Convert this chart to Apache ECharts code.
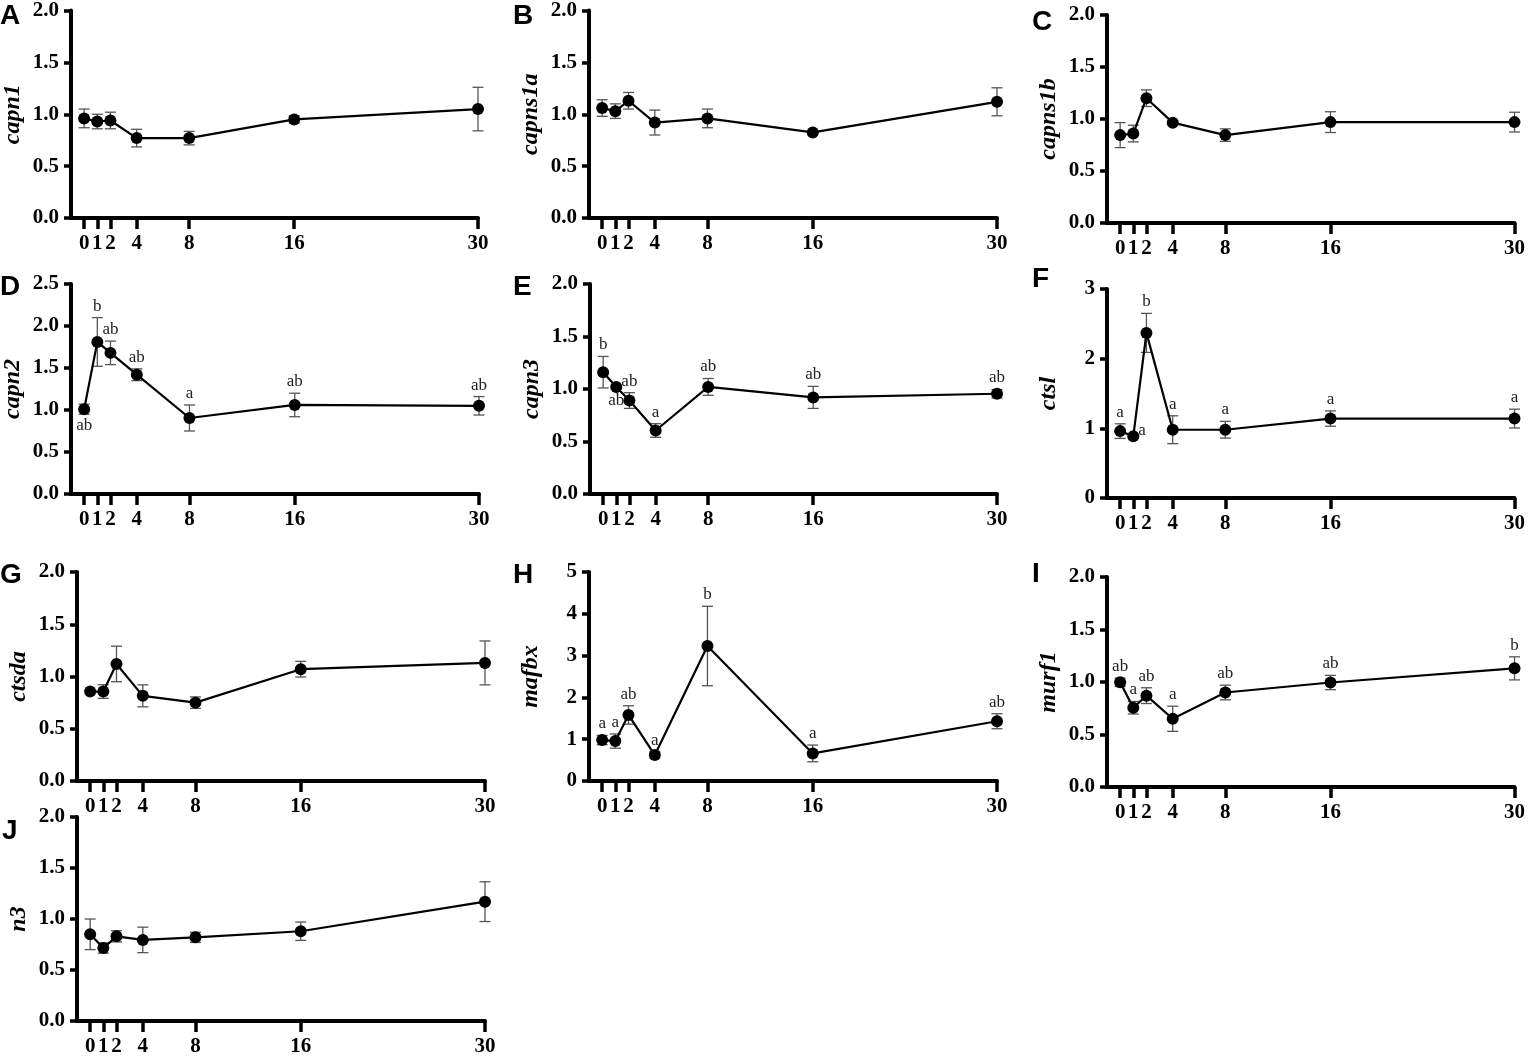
<!DOCTYPE html>
<html>
<head>
<meta charset="UTF-8">
<title>Gene expression time course</title>
<script src="https://cdn.jsdelivr.net/npm/echarts@6/dist/echarts.min.js"></script>
<style>
    html, body { margin: 0; padding: 0; background: #fff; }
    #chart { width: 1528px; height: 1057px; }
</style>
</head>
<body>
<div id="chart"></div>
<script>
// sampling days (x axis)
const days = [0, 1, 2, 4, 8, 16, 30];

// relative expression, mean and error per gene
const capn1Mean   = [0.96, 0.93, 0.94, 0.77, 0.77, 0.95, 1.05];
const capn1Err    = [0.09, 0.07, 0.08, 0.085, 0.065, 0.035, 0.21];
const capns1aMean = [1.06, 1.03, 1.13, 0.92, 0.96, 0.825, 1.12];
const capns1aErr  = [0.08, 0.07, 0.08, 0.12, 0.09, 0.012, 0.135];
const capns1bMean = [0.845, 0.86, 1.20, 0.965, 0.845, 0.97, 0.97];
const capns1bErr  = [0.12, 0.08, 0.08, 0.015, 0.06, 0.10, 0.095];
const capn2Mean   = [1.01, 1.81, 1.68, 1.42, 0.905, 1.06, 1.05];
const capn2Err    = [0.06, 0.29, 0.14, 0.07, 0.155, 0.14, 0.11];
const capn3Mean   = [1.16, 1.02, 0.89, 0.605, 1.02, 0.92, 0.955];
const capn3Err    = [0.15, 0.02, 0.075, 0.065, 0.08, 0.105, 0.04];
const ctslMean    = [0.96, 0.885, 2.37, 0.98, 0.98, 1.14, 1.14];
const ctslErr     = [0.105, 0.02, 0.28, 0.20, 0.12, 0.11, 0.135];
const ctsdaMean   = [0.856, 0.856, 1.12, 0.815, 0.75, 1.07, 1.13];
const ctsdaErr    = [0.01, 0.065, 0.17, 0.105, 0.055, 0.075, 0.21];
const mafbxMean   = [0.98, 0.955, 1.58, 0.62, 3.23, 0.66, 1.43];
const mafbxErr    = [0.11, 0.17, 0.22, 0.08, 0.95, 0.20, 0.18];
const murf1Mean   = [0.997, 0.755, 0.87, 0.65, 0.90, 0.995, 1.13];
const murf1Err    = [0.04, 0.06, 0.075, 0.12, 0.07, 0.068, 0.11];
const n3Mean      = [0.85, 0.715, 0.83, 0.795, 0.82, 0.88, 1.17];
const n3Err       = [0.15, 0.05, 0.055, 0.125, 0.05, 0.09, 0.195];

// significance letters
const capn2Letters = ['ab', 'b', 'ab', 'ab', 'a', 'ab', 'ab'];
const capn3Letters = ['b', 'ab', 'ab', 'a', 'ab', 'ab', 'ab'];
const ctslLetters  = ['a', 'a', 'b', 'a', 'a', 'a', 'a'];
const mafbxLetters = ['a', 'a', 'ab', 'a', 'b', 'a', 'ab'];
const murf1Letters = ['ab', 'a', 'ab', 'a', 'ab', 'ab', 'b'];

const panels = [
    { tag: 'A', gene: 'capn1',   mean: capn1Mean,   err: capn1Err,   letters: null,         yMax: 2,   yStep: 0.5, box: [70, 8, 408, 210],    tagAt: [0, 2] },
    { tag: 'B', gene: 'capns1a', mean: capns1aMean, err: capns1aErr, letters: null,         yMax: 2,   yStep: 0.5, box: [589, 8, 408, 210],   tagAt: [513, 2] },
    { tag: 'C', gene: 'capns1b', mean: capns1bMean, err: capns1bErr, letters: null,         yMax: 2,   yStep: 0.5, box: [1107, 15, 409, 208], tagAt: [1032, 8] },
    { tag: 'D', gene: 'capn2',   mean: capn2Mean,   err: capn2Err,   letters: capn2Letters, yMax: 2.5, yStep: 0.5, box: [71, 284, 408, 210],  tagAt: [0, 273] },
    { tag: 'E', gene: 'capn3',   mean: capn3Mean,   err: capn3Err,   letters: capn3Letters, yMax: 2,   yStep: 0.5, box: [590, 284, 407, 210], tagAt: [513, 273] },
    { tag: 'F', gene: 'ctsl',    mean: ctslMean,    err: ctslErr,    letters: ctslLetters,  yMax: 3,   yStep: 1,   box: [1107, 289, 409, 209], tagAt: [1032, 265] },
    { tag: 'G', gene: 'ctsda',   mean: ctsdaMean,   err: ctsdaErr,   letters: null,         yMax: 2,   yStep: 0.5, box: [77, 572, 408, 209],  tagAt: [0, 561] },
    { tag: 'H', gene: 'mafbx',   mean: mafbxMean,   err: mafbxErr,   letters: mafbxLetters, yMax: 5,   yStep: 1,   box: [589, 572, 408, 209], tagAt: [513, 561] },
    { tag: 'I', gene: 'murf1',   mean: murf1Mean,   err: murf1Err,   letters: murf1Letters, yMax: 2,   yStep: 0.5, box: [1107, 577, 409, 210], tagAt: [1032, 560] },
    { tag: 'J', gene: 'n3',      mean: n3Mean,      err: n3Err,      letters: null,         yMax: 2,   yStep: 0.5, box: [77, 817, 408, 210],  tagAt: [2, 817] }
];

// where a letter sits when not above its error bar
const letterPlace = { D: { 0: 'bottom' }, E: { 1: 'bottom' }, F: { 1: 'right' } };

const serif = "'Liberation Serif', 'Times New Roman', serif";

const chart = echarts.init(document.getElementById('chart'));

const grids = [], xAxes = [], yAxes = [], series = [], graphics = [];

panels.forEach(function (p, i) {
    grids.push({ left: p.box[0], top: p.box[1], width: p.box[2], height: p.box[3], containLabel: false });

    xAxes.push({
        type: 'value', gridIndex: i, min: -1, max: 30,
        splitLine: { show: false },
        axisLine: { onZero: false, lineStyle: { color: '#000', width: 4 } },
        axisTick: { show: true, customValues: days, length: 11, lineStyle: { color: '#000', width: 3.5 } },
        axisLabel: { customValues: days, margin: 15, color: '#000', fontFamily: serif, fontWeight: 'bold', fontSize: 21, hideOverlap: false }
    });

    yAxes.push({
        type: 'value', gridIndex: i, min: 0, max: p.yMax, interval: p.yStep,
        name: p.gene, nameLocation: 'middle', nameGap: 46, nameRotate: 90,
        nameTextStyle: { color: '#000', fontFamily: serif, fontWeight: 'bold', fontStyle: 'italic', fontSize: 24 },
        splitLine: { show: false },
        axisLine: { show: true, onZero: false, lineStyle: { color: '#000', width: 4 } },
        axisTick: { show: true, length: 7, lineStyle: { color: '#000', width: 3.5 } },
        axisLabel: {
            margin: 12, color: '#000', fontFamily: serif, fontWeight: 'bold', fontSize: 21,
            formatter: function (v) { return p.yStep < 1 ? v.toFixed(1) : String(v); }
        }
    });

    // error bars
    series.push({
        type: 'custom', xAxisIndex: i, yAxisIndex: i, z: 2, silent: true,
        data: days.map(function (d, k) { return [d, p.mean[k] - p.err[k], p.mean[k] + p.err[k]]; }),
        renderItem: function (params, api) {
            const top = api.coord([api.value(0), api.value(2)]);
            const bot = api.coord([api.value(0), api.value(1)]);
            const w = 5.5;
            const style = { stroke: '#555', lineWidth: 1.3 };
            return {
                type: 'group',
                children: [
                    { type: 'line', shape: { x1: top[0], y1: top[1], x2: bot[0], y2: bot[1] }, style: style },
                    { type: 'line', shape: { x1: top[0] - w, y1: top[1], x2: top[0] + w, y2: top[1] }, style: style },
                    { type: 'line', shape: { x1: bot[0] - w, y1: bot[1], x2: bot[0] + w, y2: bot[1] }, style: style }
                ]
            };
        }
    });

    // mean line with dots
    series.push({
        type: 'line', xAxisIndex: i, yAxisIndex: i, z: 3, silent: true,
        data: days.map(function (d, k) { return [d, p.mean[k]]; }),
        symbol: 'circle', symbolSize: 12,
        lineStyle: { color: '#000', width: 2.2 },
        itemStyle: { color: '#000' }
    });

    // significance letters
    if (p.letters) {
        const place = letterPlace[p.tag] || {};
        series.push({
            type: 'custom', xAxisIndex: i, yAxisIndex: i, z: 4, silent: true,
            data: days.map(function (d, k) { return [d, k]; }),
            renderItem: function (params, api) {
                const k = api.value(1);
                const x = api.value(0);
                const where = place[k] || 'top';
                let pt, style;
                if (where === 'bottom') {
                    pt = api.coord([x, p.mean[k] - p.err[k]]);
                    style = { x: pt[0], y: pt[1] + 3, align: 'center', verticalAlign: 'top' };
                } else if (where === 'right') {
                    pt = api.coord([x, p.mean[k]]);
                    style = { x: pt[0] + 5, y: pt[1] - 6, align: 'left', verticalAlign: 'middle' };
                } else {
                    pt = api.coord([x, p.mean[k] + p.err[k]]);
                    style = { x: pt[0], y: pt[1] - 3, align: 'center', verticalAlign: 'bottom' };
                }
                style.text = p.letters[k];
                style.fill = '#222';
                style.font = '17px ' + serif;
                return { type: 'text', style: style };
            }
        });
    }

    graphics.push({
        type: 'text', left: p.tagAt[0], top: p.tagAt[1],
        style: { text: p.tag, font: "bold 28px 'Liberation Sans', Arial, sans-serif", fill: '#000' }
    });
});

chart.setOption({
    backgroundColor: '#fff',
    animation: false,
    grid: grids,
    xAxis: xAxes,
    yAxis: yAxes,
    series: series,
    graphic: graphics
});
</script>
</body>
</html>
